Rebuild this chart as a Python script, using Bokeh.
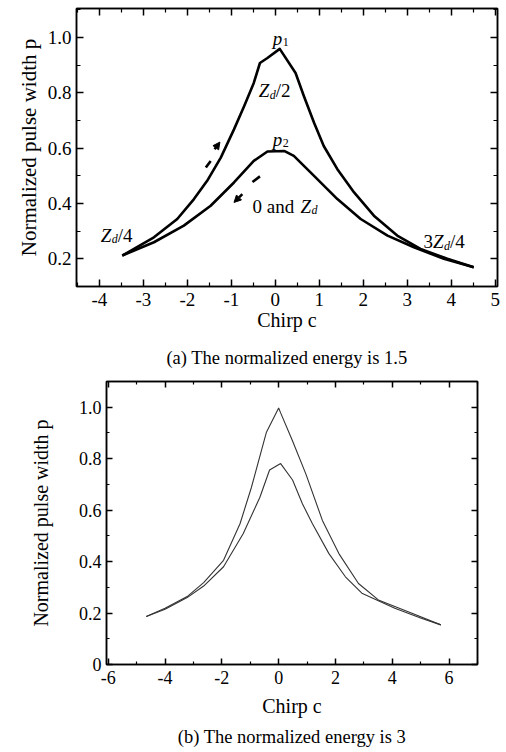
from bokeh.plotting import figure
from bokeh.layouts import column, row
from bokeh.models import (ColumnDataSource, FixedTicker, LinearAxis, Title, Arrow, NormalHead, Range1d,
                          PrintfTickFormatter, CustomJSTickFormatter, Spacer)
from bokeh.core.properties import value, field
from bokeh.embed import file_html
from bokeh.resources import INLINE

SERIF = "Liberation Serif"

# ---------------- (a) normalized energy 1.5 ----------------
a_c_upper = [-3.48, -2.76, -2.23, -1.85, -1.55, -1.24, -0.94, -0.71, -0.49, -0.35, -0.18, 0.10, 0.46, 0.65, 0.88, 1.10, 1.41, 1.79, 2.24, 2.77, 3.30, 3.91, 4.51]
a_p_upper = [0.212, 0.278, 0.344, 0.416, 0.482, 0.566, 0.668, 0.752, 0.836, 0.908, 0.926, 0.959, 0.872, 0.788, 0.692, 0.608, 0.524, 0.440, 0.356, 0.284, 0.236, 0.200, 0.170]
a_c_lower = [-3.48, -2.76, -2.08, -1.47, -0.94, -0.49, -0.18, 0.20, 0.42, 0.88, 1.41, 1.94, 2.55, 3.15, 3.83, 4.51]
a_p_lower = [0.212, 0.260, 0.320, 0.392, 0.476, 0.554, 0.588, 0.590, 0.572, 0.500, 0.416, 0.344, 0.284, 0.242, 0.200, 0.170]
a_xticks = [-4, -3, -2, -1, 0, 1, 2, 3, 4, 5]
a_xminor = [-4.5, -3.5, -2.5, -1.5, -0.5, 0.5, 1.5, 2.5, 3.5, 4.5]
a_yticks = [0.2, 0.4, 0.6, 0.8, 1.0]
a_yminor = [0.1, 0.3, 0.5, 0.7, 0.9, 1.1]

# annotation anchors (data coords) and text pieces
lab_x = [-0.06, -0.38, -0.06, -0.52, -3.97, 3.37]
lab_y = [0.998, 0.808, 0.632, 0.391, 0.285, 0.261]
piece_lab = [0, 0, 1, 1, 1, 2, 2, 3, 3, 3, 4, 4, 4, 5, 5, 5, 5]
piece_text = ["p", "1", "Z", "d", "/2", "p", "2", "0 and ", "Z", "d", "Z", "d", "/4", "3", "Z", "d", "/4"]
piece_dx = [0, 10, 0, 11, 17, 0, 10, 0, 48, 59, 0, 11, 17, 0, 9.5, 20.5, 26.5]
piece_dy = [0, 4, 0, 4, 0, 0, 4, 0, 0, 4, 0, 4, 0, 0, 0, 4, 0]
piece_size = ["19px", "12px", "19px", "12px", "19px", "19px", "12px", "19px", "19px", "12px",
              "19px", "12px", "19px", "19px", "19px", "12px", "19px"]
piece_italic = [True, False, True, True, False, True, False, False, True, True, True, True, False, False, True, True, False]

# direction arrows: dash part and head part
arr_dash_x0 = [-1.58, -0.35]
arr_dash_y0 = [0.530, 0.498]
arr_dash_x1 = [-1.47, -0.52]
arr_dash_y1 = [0.554, 0.478]
arr_head_x0 = [-1.38, -0.75]
arr_head_y0 = [0.596, 0.434]
arr_head_x1 = [-1.26, -0.94]
arr_head_y1 = [0.622, 0.404]

# ---------------- (b) normalized energy 3 ----------------
b_c_upper = [-4.66, -4.0, -3.22, -2.64, -1.94, -1.36, -0.96, -0.43, 0.0, 0.07, 0.49, 0.96, 1.54, 2.12, 2.81, 3.51, 4.67, 5.71]
b_p_upper = [0.187, 0.219, 0.264, 0.318, 0.405, 0.547, 0.688, 0.903, 0.997, 0.978, 0.869, 0.740, 0.560, 0.431, 0.315, 0.251, 0.200, 0.154]
b_c_lower = [-4.66, -4.0, -3.22, -2.64, -1.94, -1.25, -0.66, -0.32, 0.07, 0.49, 0.84, 1.19, 1.77, 2.35, 2.93, 4.09, 5.02, 5.71]
b_p_lower = [0.187, 0.215, 0.260, 0.305, 0.380, 0.508, 0.650, 0.756, 0.781, 0.717, 0.624, 0.547, 0.431, 0.341, 0.277, 0.219, 0.180, 0.154]
b_xticks = [-6, -4, -2, 0, 2, 4, 6]
b_xminor = [-5, -3, -1, 1, 3, 5, 7]
b_yticks = [0, 0.2, 0.4, 0.6, 0.8, 1.0]
b_yminor = [0.1, 0.3, 0.5, 0.7, 0.9, 1.1]

YLABEL = "Normalized pulse width p"
XLABEL = "Chirp c"
CAP_A = "(a) The normalized energy is 1.5"
CAP_B = "(b) The normalized energy is 3"


def style(p, xt, xm, yt, ym, tick_size, ylab_size, ylab_standoff, xtick_standoff, xlab_standoff, maj, mino):
    p.outline_line_color = "black"
    p.outline_line_width = 1.5
    p.xgrid.visible = False
    p.ygrid.visible = False
    xtick = FixedTicker(ticks=xt, minor_ticks=xm)
    ytick = FixedTicker(ticks=yt, minor_ticks=ym)
    p.add_layout(LinearAxis(), "above")
    p.add_layout(LinearAxis(), "right")
    for ax in p.xaxis:
        ax.ticker = xtick
    for ax in p.yaxis:
        ax.ticker = ytick
    for ax in list(p.xaxis) + list(p.yaxis):
        ax.axis_line_color = "black"
        ax.axis_line_width = 1.5
        ax.major_tick_line_color = "black"
        ax.minor_tick_line_color = "black"
        ax.major_tick_line_width = 1.5
        ax.minor_tick_line_width = 1.2
        ax.major_tick_in = maj
        ax.major_tick_out = 0
        ax.minor_tick_in = mino
        ax.minor_tick_out = 0
        ax.major_label_text_font = SERIF
        ax.major_label_text_color = "black"
        ax.major_label_text_font_size = tick_size
        ax.major_label_standoff = 5
        ax.axis_label_text_font = SERIF
        ax.axis_label_text_font_style = "normal"
        ax.axis_label_text_color = "black"
    for ax in [p.above[0], p.right[0]]:
        ax.formatter = CustomJSTickFormatter(code="return ''")
        ax.major_label_standoff = 0
    xa = p.below[0]
    ya = p.left[0]
    xa.formatter = PrintfTickFormatter(format="%d")
    ya.formatter = PrintfTickFormatter(format="%.1f")
    xa.major_label_standoff = xtick_standoff
    xa.axis_label = XLABEL
    xa.axis_label_text_font_size = "20px"
    xa.axis_label_standoff = xlab_standoff
    ya.axis_label = YLABEL
    ya.axis_label_text_font_size = ylab_size
    ya.axis_label_standoff = ylab_standoff


# ---- figure (a)
pa = figure(width=506, height=380, output_backend="svg", toolbar_location=None,
            x_range=Range1d(-4.52, 5.05), y_range=Range1d(0.1, 1.105),
            min_border_left=76, min_border_right=9, min_border_top=8, min_border_bottom=93)
style(pa, a_xticks, a_xminor, a_yticks, a_yminor, "19px", "21px", 4, 6, 0, 7, 4)
pa.line(a_c_upper, a_p_upper, line_color="black", line_width=2.6, line_join="round")
pa.line(a_c_lower, a_p_lower, line_color="black", line_width=2.6, line_join="round")

pa.segment(arr_dash_x0, arr_dash_y0, arr_dash_x1, arr_dash_y1, line_color="black", line_width=2.6)
arr_src = ColumnDataSource(dict(x0=arr_head_x0, y0=arr_head_y0, x1=arr_head_x1, y1=arr_head_y1))
pa.add_layout(Arrow(end=NormalHead(size=7, fill_color="black", line_color="black"),
                    x_start="x0", y_start="y0", x_end="x1", y_end="y1",
                    line_width=2.6, line_color="black", source=arr_src))

for italic in (True, False):
    idx = [i for i in range(len(piece_text)) if piece_italic[i] == italic]
    src = ColumnDataSource(dict(
        x=[lab_x[piece_lab[i]] for i in idx],
        y=[lab_y[piece_lab[i]] for i in idx],
        t=[piece_text[i] for i in idx],
        xo=[piece_dx[i] for i in idx],
        yo=[piece_dy[i] for i in idx],
        s=[piece_size[i] for i in idx],
    ))
    pa.text(x="x", y="y", text="t", x_offset="xo", y_offset="yo", source=src,
            text_font=value(SERIF), text_font_size=field("s"),
            text_font_style="italic" if italic else "normal",
            text_align="left", text_baseline="alphabetic", text_color="black")

pa.add_layout(Title(text=CAP_A, align="center", text_font=SERIF, text_font_size="18.5px",
                    text_font_style="normal", text_color="black", standoff=25), "below")

# ---- figure (b), shifted right by a spacer
pb = figure(width=480, height=372, output_backend="svg", toolbar_location=None,
            x_range=Range1d(-6.06, 7.0), y_range=Range1d(0, 1.1),
            min_border_left=76, min_border_right=29, min_border_top=1, min_border_bottom=87)
style(pb, b_xticks, b_xminor, b_yticks, b_yminor, "18px", "20px", 24, 6, 8, 6, 3)
pb.left[0].major_label_overrides = {0: "0"}
pb.line(b_c_upper, b_p_upper, line_color="#333333", line_width=1.1)
pb.line(b_c_lower, b_p_lower, line_color="#333333", line_width=1.1)
pb.add_layout(Title(text=CAP_B, align="center", offset=-16, text_font=SERIF, text_font_size="18.5px",
                    text_font_style="normal", text_color="black", standoff=11), "below")

layout = column(pa, row(Spacer(width=26, height=372), pb, spacing=0), spacing=0)
open("out.html", "w").write(file_html(layout, INLINE))
